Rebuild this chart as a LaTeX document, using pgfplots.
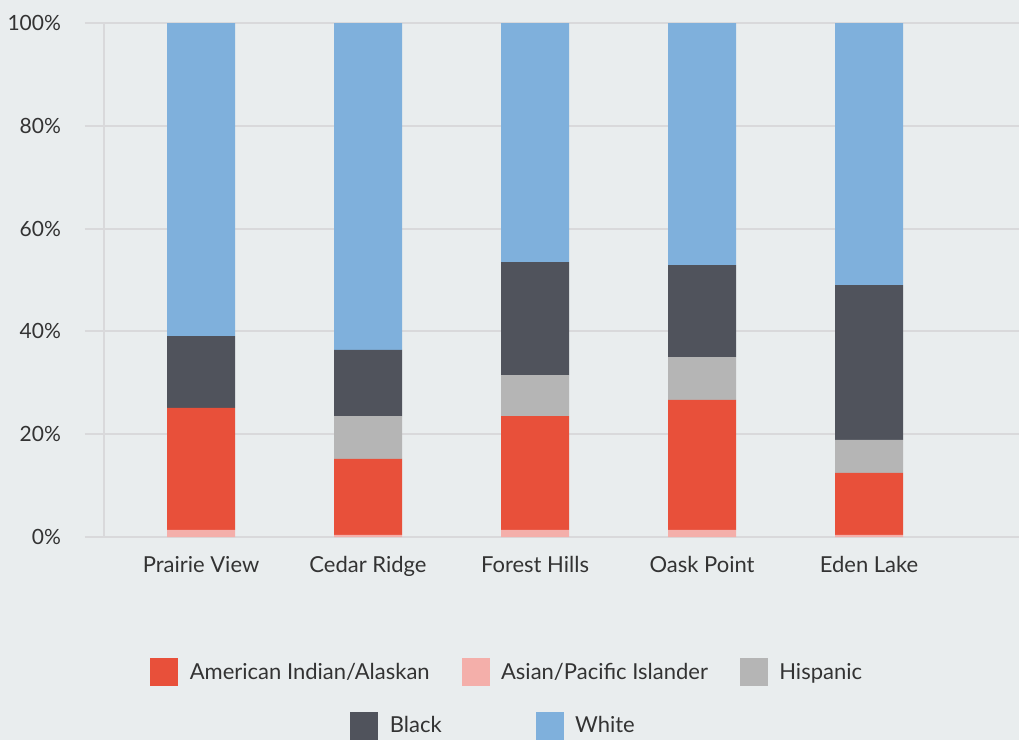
\documentclass[border=0pt]{standalone}
\usepackage{fontspec}
\setmainfont{Lato}
\usepackage{pgfplots}
\pgfplotsset{compat=1.18}
\usepackage{pgfplotstable}

\definecolor{bgc}{HTML}{E9EDEE}
\definecolor{gridc}{HTML}{D9D9DB}
\definecolor{txtc}{HTML}{333333}
\definecolor{aianc}{HTML}{E8503A}
\definecolor{apic}{HTML}{F4AFAA}
\definecolor{hispc}{HTML}{B5B5B5}
\definecolor{blackc}{HTML}{50535C}
\definecolor{whitec}{HTML}{7FB0DC}

% share of each group, bottom to top: api, aian, hispanic, black, white
\pgfplotstableread{
x api aian hisp black white
0 1.4 23.7 0.0 14.0 60.9
1 0.4 14.8 8.3 12.9 63.6
2 1.4 22.1 8.0 22.0 46.5
3 1.4 25.3 8.3 17.9 47.1
4 0.4 12.1 6.4 30.1 51.0
}\racedata

\pgfplotsset{
  sqlegend/.style={
    legend image code/.code={\fill[##1, draw=none] (0pt,-7pt) rectangle (14pt,7pt);
      \path (17.5pt,0pt);},
  },
}

\begin{document}
\begin{tikzpicture}[font=\fontsize{11}{13}\selectfont]
\path[use as bounding box, fill=bgc] (-52pt,-101.5pt) rectangle (457.5pt,268.5pt);
\begin{axis}[
  at={(0,0)}, anchor=south west, scale only axis,
  width=457.5pt, height=257pt,
  ybar stacked, bar width=34pt,
  xmin=-0.581, xmax=4.898, ymin=0, ymax=100,
  axis lines*=left,
  axis line style={-, gridc, line width=1pt},
  x axis line style={draw=none},
  xtick={0,...,4},
  xticklabels={Prairie View, Cedar Ridge, Forest Hills, Oask Point, Eden Lake},
  x tick style={draw=none},
  xticklabel style={anchor=base, yshift=-17.5pt, text=txtc},
  ytick={0,20,...,100},
  yticklabel={\pgfmathprintnumber{\tick}\%},
  y tick style={gridc, line width=1pt},
  ytick align=outside, major tick length=9.5pt,
  yticklabel style={text=txtc, xshift=-8.5pt, font=\fontsize{10.5}{12}\selectfont},
  /pgf/number format/assume math mode=true,
  ymajorgrids, grid style={gridc, line width=1pt},
  sqlegend,
  legend columns=3,
  legend style={draw=none, fill=none, inner sep=0pt, text=txtc,
    at={(axis description cs:0.0503,-0.2636)}, anchor=west,
    /tikz/every even column/.append style={column sep=14pt}},
  ]
  \addplot[fill=apic, draw=none, forget plot] table[x=x, y=api] {\racedata};
  \addplot[fill=aianc, draw=none, forget plot] table[x=x, y=aian] {\racedata};
  \addplot[fill=hispc, draw=none, forget plot] table[x=x, y=hisp] {\racedata};
  \addplot[fill=blackc, draw=none, forget plot] table[x=x, y=black] {\racedata};
  \addplot[fill=whitec, draw=none, forget plot] table[x=x, y=white] {\racedata};
  \addlegendimage{fill=aianc}
  \addlegendentry{American Indian/Alaskan}
  \addlegendimage{fill=apic}
  \addlegendentry{Asian/Pacific Islander}
  \addlegendimage{fill=hispc}
  \addlegendentry{Hispanic}
\end{axis}
\begin{axis}[
  at={(0,0)}, anchor=south west, scale only axis,
  width=457.5pt, height=257pt,
  xmin=0, xmax=1, ymin=0, ymax=1,
  hide axis,
  sqlegend,
  legend columns=2,
  legend style={draw=none, fill=none, inner sep=0pt, text=txtc,
    at={(axis description cs:0.2689,-0.3677)}, anchor=west,
    /tikz/every even column/.append style={column sep=45pt}},
  ]
  \addlegendimage{fill=blackc}
  \addlegendentry{Black}
  \addlegendimage{fill=whitec}
  \addlegendentry{White}
\end{axis}
\end{tikzpicture}
\end{document}
